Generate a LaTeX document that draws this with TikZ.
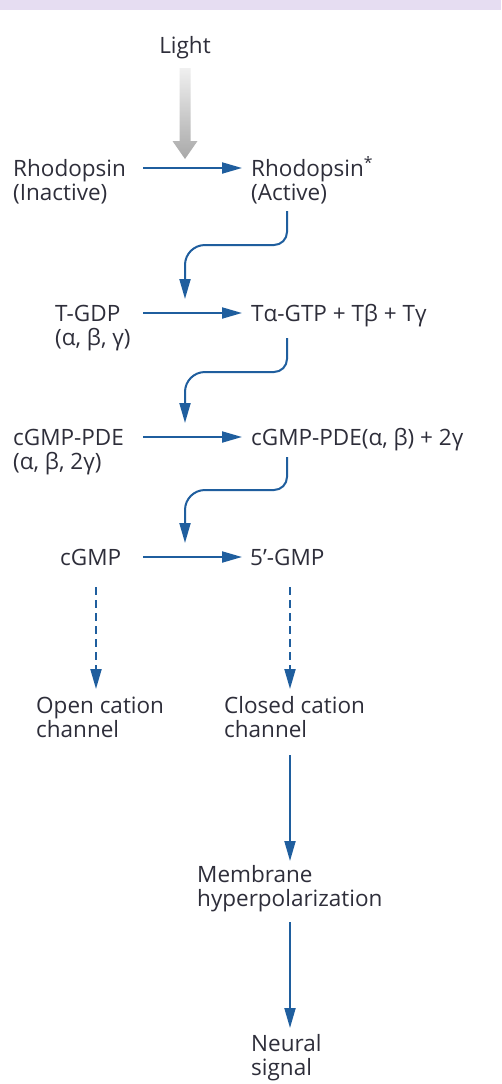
\documentclass[tikz,border=0pt]{standalone}
\usepackage{fontspec}
\setmainfont{Open Sans}
\usetikzlibrary{arrows.meta}
\definecolor{lineblue}{HTML}{1F5E9E}
\definecolor{txt}{HTML}{2E2E3A}
\definecolor{band}{HTML}{E6DDF2}
\tikzset{
  lbl/.style={anchor=base west, inner sep=0pt, align=left, text=txt,
    font=\fontsize{22.5}{24}\selectfont},
  arr/.style={draw=lineblue, line width=2pt, -{Triangle[length=20pt,width=11pt]}},
  darr/.style={arr, dash pattern=on 8pt off 5pt},
}
\begin{document}
\begin{tikzpicture}[x=1pt,y=-1pt]
\useasboundingbox (0,0) rectangle (501,1084);
\fill[white] (0,0) rectangle (501,1084);
\fill[band] (0,0) rectangle (501,10);

% light
\node[lbl, anchor=base] (light) at (185,53) {Light};
\shade[top color=gray!12, bottom color=gray!68]
  (179.5,68) -- (190.5,68) -- (190.5,141) -- (197.5,141) -- (185,159)
  -- (172.5,141) -- (179.5,141) -- cycle;

% nodes (two-line nodes: base = baseline of the second line)
\node[lbl] (rin) at (13,200) {Rhodopsin\\(Inactive)};
\node[lbl] (ract) at (251,200) {Rhodopsin\textsuperscript{*}\\(Active)};
\node[lbl] (tgdp) at (55,345) {T-GDP\\(α, β, γ)};
\node[lbl] (tgtp) at (251,321) {Tα-GTP + Tβ + Tγ};
\node[lbl] (pde) at (13,469) {cGMP-PDE\\(α, β, 2γ)};
\node[lbl] (pdeact) at (251,445) {cGMP-PDE(α, β) + 2γ};
\node[lbl] (cgmp) at (60,565) {cGMP};
\node[lbl] (gmp) at (250,565) {5’-GMP};
\node[lbl] (open) at (36,737) {Open cation\\channel};
\node[lbl] (closed) at (224,737) {Closed cation\\channel};
\node[lbl] (memb) at (197,906) {Membrane\\hyperpolarization};
\node[lbl] (neural) at (251,1075) {Neural\\signal};

% horizontal arrows
\coordinate (h1s) at (143,168); \coordinate (h1e) at (242,168);
\coordinate (h2s) at (143,313); \coordinate (h2e) at (242,313);
\coordinate (h3s) at (143,437); \coordinate (h3e) at (242,437);
\coordinate (h4s) at (143,557); \coordinate (h4e) at (242,557);
\draw[arr] (h1s) -- (h1e);
\draw[arr] (h2s) -- (h2e);
\draw[arr] (h3s) -- (h3e);
\draw[arr] (h4s) -- (h4e);

% curved arrows
\coordinate (c1s) at (287,211); \coordinate (c1e) at (185,299);
\coordinate (c2s) at (287,338); \coordinate (c2e) at (185,423);
\coordinate (c3s) at (287,457); \coordinate (c3e) at (185,543);
\draw[arr] (c1s) [rounded corners=13pt] -- (287,245) [rounded corners=20pt] -- (185,245) -- (c1e);
\draw[arr] (c2s) [rounded corners=13pt] -- (287,372) [rounded corners=20pt] -- (185,372) -- (c2e);
\draw[arr] (c3s) [rounded corners=13pt] -- (287,490) [rounded corners=20pt] -- (185,490) -- (c3e);

% dashed arrows
\coordinate (d1s) at (96,587); \coordinate (d1e) at (96,689);
\coordinate (d2s) at (290,587); \coordinate (d2e) at (290,689);
\draw[darr] (d1s) -- (d1e);
\draw[darr] (d2s) -- (d2e);

% solid vertical arrows
\coordinate (v1s) at (290,755); \coordinate (v1e) at (290,861);
\coordinate (v2s) at (290,922); \coordinate (v2e) at (290,1028);
\draw[arr] (v1s) -- (v1e);
\draw[arr] (v2s) -- (v2e);
\end{tikzpicture}
\end{document}
